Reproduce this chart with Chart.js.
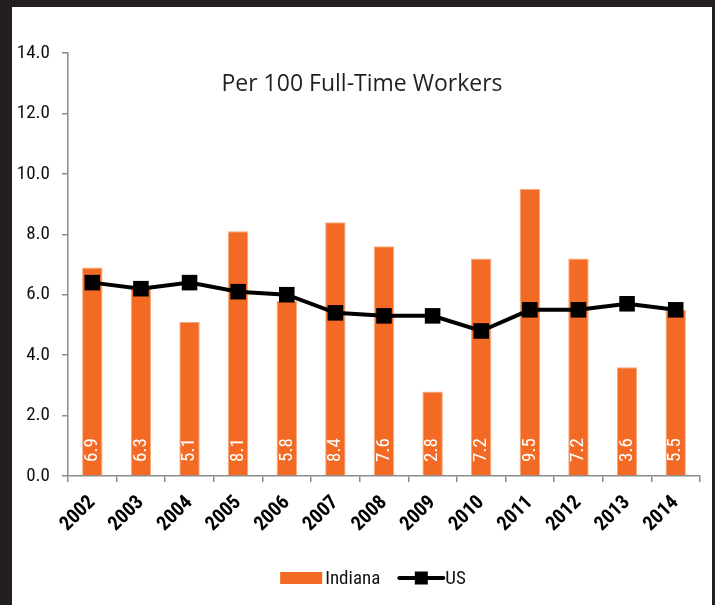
<!DOCTYPE html>
<html>
<head>
<meta charset="utf-8">
<script src="https://cdn.jsdelivr.net/npm/chart.js@4/dist/chart.umd.min.js"></script>
<style>
  html, body { margin: 0; padding: 0; background: #231f20; width: 715px; height: 605px; overflow: hidden; }
  #wrap { position: absolute; left: 12px; top: 7px; width: 700px; height: 598px; background: #ffffff; }
</style>
</head>
<body>
<div id="wrap"><canvas id="c"></canvas></div>
<script>
const years = ['2002','2003','2004','2005','2006','2007','2008','2009','2010','2011','2012','2013','2014'];
const indiana = [6.9, 6.3, 5.1, 8.1, 5.8, 8.4, 7.6, 2.8, 7.2, 9.5, 7.2, 3.6, 5.5];
const us = [6.4, 6.2, 6.4, 6.1, 6.0, 5.4, 5.3, 5.3, 4.8, 5.5, 5.5, 5.7, 5.5];
const yTicks = [0, 2, 4, 6, 8, 10, 12, 14];
const titleText = 'Per 100 Full-Time Workers';

const ORANGE = '#F26A24';
const NARROW = '"Roboto Condensed", "Liberation Sans", Arial, sans-serif';

const barLabels = {
  id: 'barLabels',
  afterDatasetsDraw(chart) {
    const meta = chart.getDatasetMeta(0);
    const ctx = chart.ctx;
    const bottom = chart.scales.y.getPixelForValue(0);
    ctx.save();
    ctx.fillStyle = '#ffffff';
    ctx.font = '19px ' + NARROW;
    ctx.textAlign = 'left';
    ctx.textBaseline = 'middle';
    meta.data.forEach((bar, i) => {
      ctx.save();
      ctx.translate(bar.x, bottom - 14);
      ctx.rotate(-Math.PI / 2);
      ctx.fillText(indiana[i].toFixed(1), 0, 0);
      ctx.restore();
    });
    ctx.restore();
  }
};

const innerTitle = {
  id: 'innerTitle',
  afterDraw(chart) {
    const ctx = chart.ctx;
    ctx.save();
    ctx.fillStyle = '#231f20';
    ctx.font = '23px "Open Sans", "Noto Sans", sans-serif';
    ctx.textAlign = 'center';
    ctx.textBaseline = 'middle';
    ctx.fillText(titleText, chart.width / 2, chart.chartArea.top + 31);
    ctx.restore();
  }
};

const customLegend = {
  id: 'customLegend',
  afterDraw(chart) {
    const ctx = chart.ctx;
    ctx.save();
    ctx.font = '19px ' + NARROW;
    ctx.textBaseline = 'middle';
    ctx.textAlign = 'left';
    const t1 = chart.data.datasets[0].label;
    const t2 = chart.data.datasets[1].label;
    const w1 = ctx.measureText(t1).width;
    const w2 = ctx.measureText(t2).width;
    const total = 42 + 3 + w1 + 19 + 44 + 2 + w2;
    let x = (chart.chartArea.left + chart.chartArea.right) / 2 - 11 - total / 2;
    const y = chart.height - 27;
    ctx.fillStyle = ORANGE;
    ctx.fillRect(x, y - 6, 42, 12);
    x += 45;
    ctx.fillStyle = '#111111';
    ctx.fillText(t1, x, y + 1);
    x += w1 + 19;
    ctx.strokeStyle = '#000000';
    ctx.lineWidth = 4;
    ctx.lineCap = 'round';
    ctx.beginPath();
    ctx.moveTo(x, y);
    ctx.lineTo(x + 44, y);
    ctx.stroke();
    ctx.fillStyle = '#000000';
    ctx.fillRect(x + 22 - 6.5, y - 6.5, 13, 13);
    x += 46;
    ctx.fillStyle = '#111111';
    ctx.fillText(t2, x, y + 1);
    ctx.restore();
  }
};

new Chart(document.getElementById('c'), {
  data: {
    labels: years,
    datasets: [
      {
        type: 'bar',
        label: 'Indiana',
        data: indiana,
        backgroundColor: ORANGE,
        borderColor: '#F8A77A',
        borderWidth: 1,
        categoryPercentage: 1.0,
        barPercentage: 0.42,
        order: 2
      },
      {
        type: 'line',
        label: 'US',
        data: us,
        borderColor: '#000000',
        backgroundColor: '#000000',
        borderWidth: 4,
        pointStyle: 'rect',
        pointRadius: 11,
        pointHoverRadius: 11,
        pointBackgroundColor: '#000000',
        pointBorderWidth: 0,
        tension: 0,
        order: 1
      }
    ]
  },
  options: {
    responsive: true,
    maintainAspectRatio: false,
    animation: false,
    layout: { padding: { left: 0, right: 12, top: 46, bottom: 59 } },
    plugins: {
      legend: { display: false },
      title: { display: false },
      tooltip: { enabled: false }
    },
    scales: {
      x: {
        offset: true,
        afterFit(s) { s.height = 70; },
        grid: {
          display: true,
          offset: true,
          drawOnChartArea: false,
          drawTicks: true,
          tickLength: 6,
          color: '#8c8c8c',
          lineWidth: 1.5
        },
        border: { display: true, color: '#8c8c8c', width: 1.5 },
        ticks: {
          color: '#000000',
          font: { family: NARROW, size: 20, weight: 'bold' },
          minRotation: 45,
          maxRotation: 45,
          padding: 9,
          autoSkip: false
        }
      },
      y: {
        min: 0,
        max: 14,
        afterFit(s) { s.width = 56; },
        afterBuildTicks(s) { s.ticks = yTicks.map(v => ({ value: v })); },
        grid: {
          display: true,
          drawOnChartArea: false,
          drawTicks: true,
          tickLength: 6,
          color: '#8c8c8c',
          lineWidth: 1.5
        },
        border: { display: true, color: '#8c8c8c', width: 1.5 },
        ticks: {
          color: '#111111',
          font: { family: NARROW, size: 19 },
          padding: 12,
          callback: v => Number(v).toFixed(1)
        }
      }
    }
  },
  plugins: [barLabels, innerTitle, customLegend]
});
</script>
</body>
</html>
